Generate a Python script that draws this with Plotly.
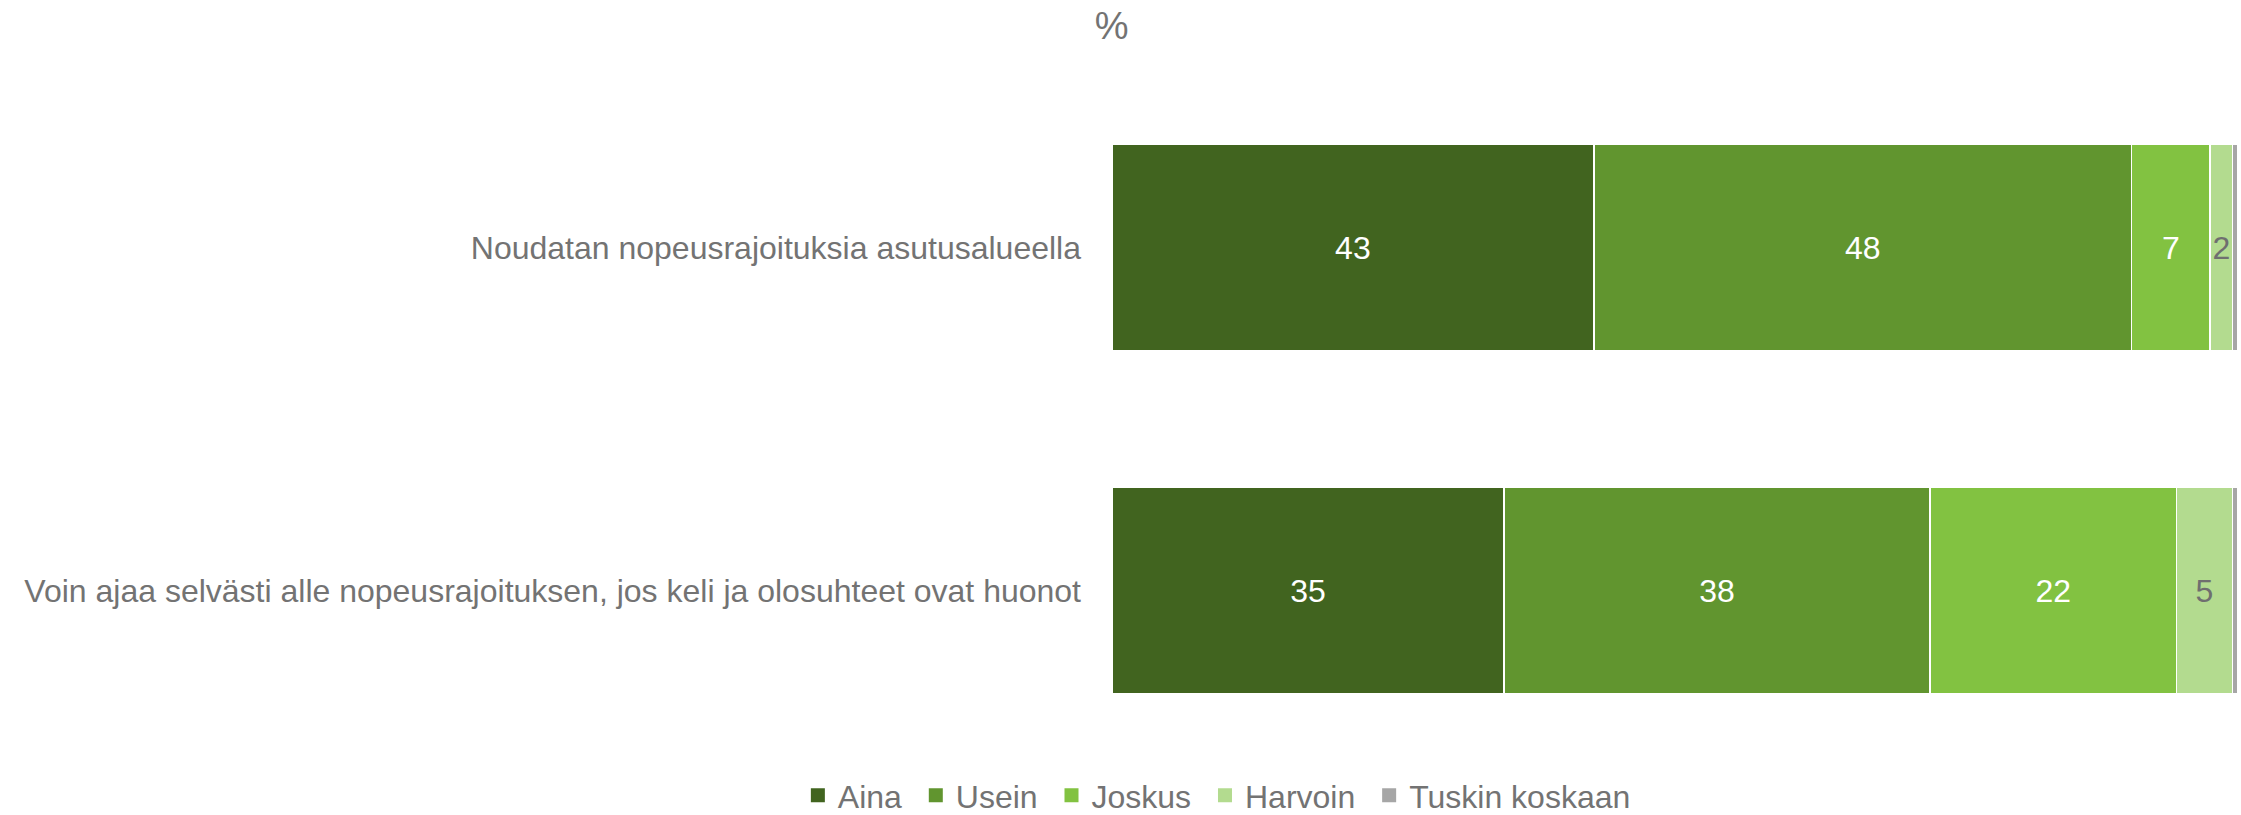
import plotly.graph_objects as go

categories = ["Noudatan nopeusrajoituksia asutusalueella",
              "Voin ajaa selvästi alle nopeusrajoituksen, jos keli ja olosuhteet ovat huonot"]
series_names = ["Aina", "Usein", "Joskus", "Harvoin", "Tuskin koskaan"]
aina = [43, 35]
usein = [48, 38]
joskus = [7, 22]
harvoin = [2, 5]
tuskin = [0.4, 0.4]

colors = ["#41641F", "#61952F", "#82C241", "#B3DB8F", "#A6A6A6"]
text_colors = ["white", "white", "white", "#6F6F6F", "#6F6F6F"]
series_values = [aina, usein, joskus, harvoin, tuskin]
show_text = [True, True, True, True, False]

FONT = "Liberation Sans, Arial, sans-serif"
GRAY = "#737373"
FS = 32

fig = go.Figure()
for name, vals, col, tcol, st in zip(series_names, series_values, colors, text_colors, show_text):
    fig.add_trace(go.Bar(
        name=name, y=categories, x=vals, orientation="h",
        marker=dict(color=col, line=dict(color="white", width=1.5 if st else 0)),
        text=[str(v) for v in vals] if st else None,
        textposition="inside" if st else "none",
        insidetextanchor="middle",
        textangle=0,
        cliponaxis=False,
        constraintext="none",
        textfont=dict(color=tcol, size=FS, family=FONT),
        hoverinfo="skip",
        showlegend=False,
    ))

# legend entries with square markers
for i, (name, col) in enumerate(zip(series_names, colors)):
    fig.add_trace(go.Scatter(
        name=name + ("\u00a0" if i < len(series_names) - 1 else ""),
        x=[None], y=[None], mode="markers",
        marker=dict(symbol="square", size=14, color=col),
        showlegend=True, hoverinfo="skip",
    ))

fig.update_layout(
    barmode="stack",
    bargap=0.4,
    width=2241, height=815,
    margin=dict(l=1112, r=4, t=76, b=53),
    paper_bgcolor="white", plot_bgcolor="white",
    font=dict(family=FONT, color=GRAY, size=FS),
    uniformtext=dict(minsize=FS, mode="show"),
    title=dict(text="%", x=0.496, xanchor="center", y=0.968, yanchor="middle",
               font=dict(size=38, color=GRAY, family=FONT)),
    xaxis=dict(range=[0, 100.4], visible=False, fixedrange=True),
    yaxis=dict(autorange="reversed", showgrid=False, showline=False, ticks="",
               tickfont=dict(size=FS, color=GRAY, family=FONT), ticklabelstandoff=30),
    legend=dict(orientation="h", xref="container", x=0.543, xanchor="center",
                yref="container", y=0.024, yanchor="middle",
                font=dict(size=FS, color=GRAY, family=FONT), traceorder="normal",
                itemwidth=30, itemsizing="trace", tracegroupgap=0),
    showlegend=True,
)

fig.write_html("out.html", config={"displayModeBar": False},
               post_script="document.body.style.margin='0';document.body.style.overflow='hidden';")
